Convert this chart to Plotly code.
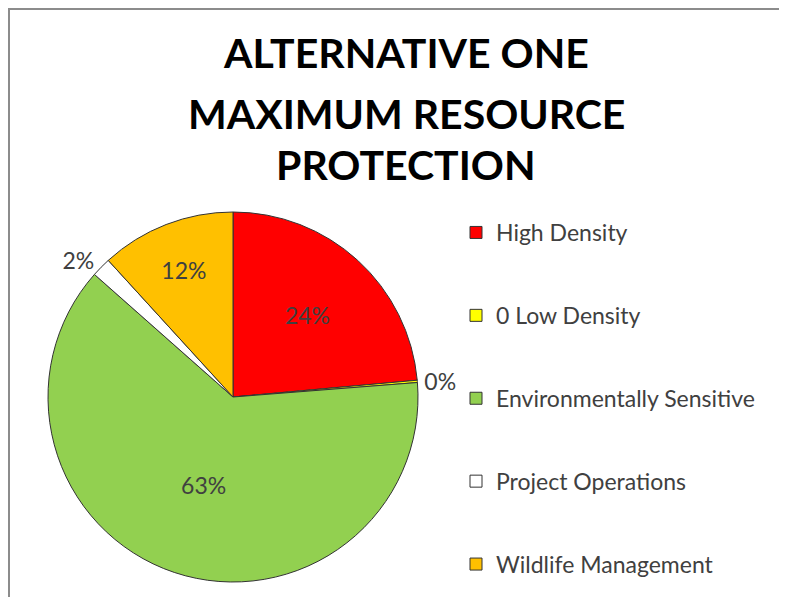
import plotly.graph_objects as go

categories = ["High Density", "0 Low Density", "Environmentally Sensitive",
              "Project Operations", "Wildlife Management"]
values = [23.6, 0.2, 62.9, 1.7, 11.8]
colors = ["#FF0000", "#FFFF00", "#92D050", "#FFFFFF", "#FFC000"]
title_lines = ["ALTERNATIVE ONE", "MAXIMUM RESOURCE", "PROTECTION"]

OFF = 8                      # default page margin of the html body
W, H = 787 - 2 * OFF, 605 - 2 * OFF
FONT = "Lato"
TXT = "#404040"

def px(x):
    return (x - OFF) / W

def py(y):
    return 1 - (y - OFF) / H

fig = go.Figure()

CX, CY, R = 233, 397, 185
fig.add_trace(go.Pie(
    labels=categories, values=values, sort=False, direction="clockwise",
    rotation=0,
    marker=dict(colors=colors, line=dict(color="#333333", width=1)),
    texttemplate="%{percent:.0%}", textposition="auto",
    insidetextorientation="horizontal",
    textfont=dict(family=FONT, size=23, color=TXT),
    domain=dict(x=[px(CX - R), px(CX + R)], y=[py(CY + R), py(CY - R)]),
    showlegend=False, hoverinfo="label+percent",
))

for i, (c, col) in enumerate(zip(categories, colors)):
    fig.add_trace(go.Scatter(
        x=[None], y=[None], mode="markers", name=c,
        legendgroup="g%d" % i,
        marker=dict(symbol="square", size=12, color=col,
                    line=dict(color="#333333", width=1)),
    ))

# chart-area frame: only the top and left edges are visible in the picture
frame_path = "M %.5f %.5f L %.5f %.5f L %.5f %.5f" % (
    px(9), -0.1, px(9), py(9), 1.1, py(9))
shapes = [dict(type="path", xref="paper", yref="paper", path=frame_path,
               line=dict(color="#8C8C8C", width=2), layer="below")]

title_y = [53, 113, 165]
annotations = []
for t, yy in zip(title_lines, title_y):
    annotations.append(dict(text="<b>%s</b>" % t, x=px(406), y=py(yy),
                            xref="paper", yref="paper", xanchor="center",
                            yanchor="middle", showarrow=False,
                            font=dict(family=FONT, size=41, color="#000000")))

fig.update_layout(
    width=W, height=H,
    margin=dict(l=0, r=0, t=0, b=0),
    paper_bgcolor="white", plot_bgcolor="white",
    xaxis=dict(visible=False), yaxis=dict(visible=False),
    shapes=shapes, annotations=annotations,
    legend=dict(x=px(456), y=py(211), xanchor="left", yanchor="top",
                traceorder="grouped", tracegroupgap=50,
                font=dict(family=FONT, size=23, color=TXT),
                bgcolor="rgba(0,0,0,0)"),
    showlegend=True,
)

fig.write_html("out.html")
